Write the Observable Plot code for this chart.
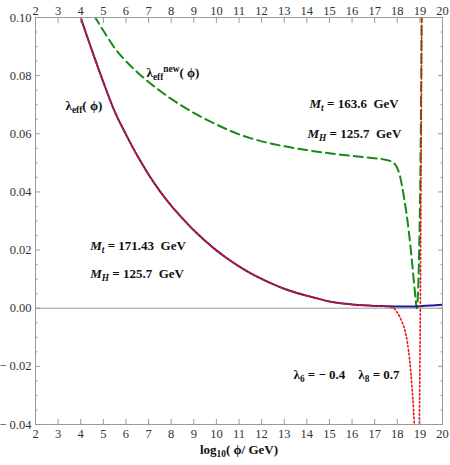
<!DOCTYPE html>
<html><head><meta charset="utf-8">
<script src="https://cdn.jsdelivr.net/npm/d3@7"></script>
<script src="https://cdn.jsdelivr.net/npm/@observablehq/plot@0.6"></script>
<style>body{margin:0;background:#fff} svg{display:block}</style>
</head><body><div id="chart"></div>
<script>
// λ_eff(φ), Mt = 171.43 GeV, Mh = 125.7 GeV (solid blue)
const blueX = [3.95,4,4.5,5,5.5,6,6.5,7,7.5,8,8.5,9,9.5,10,10.5,11,11.5,12,12.5,13,13.5,14,14.5,15,15.5,16,16.5,17,17.5,18,18.5,19,19.5,20];
const blueY = [0.1012,0.100,0.0886,0.0778,0.0677,0.0598,0.0525,0.0460,0.0403,0.0353,0.0309,0.0268,0.0232,0.0199,0.0170,0.0144,0.0121,0.0101,0.0083,0.0067,0.0054,0.0043,0.0033,0.0023,0.0017,0.0013,0.0010,0.0008,0.0007,0.0006,0.0006,0.0007,0.0009,0.0012];
// with λ6 = -0.4, λ8 = 0.7 (dotted red), branch before and after the pole
const redX1 = [3.95,4,4.5,5,5.5,6,6.5,7,7.5,8,8.5,9,9.5,10,10.5,11,11.5,12,12.5,13,13.5,14,14.5,15,15.5,16,16.5,17,17.5,17.8,18,18.2,18.35,18.45,18.55,18.65,18.72,18.78];
const redY1 = [0.1012,0.100,0.0886,0.0778,0.0677,0.0598,0.0525,0.0460,0.0403,0.0353,0.0309,0.0268,0.0232,0.0199,0.0170,0.0144,0.0121,0.0101,0.0083,0.0067,0.0054,0.0043,0.0033,0.0023,0.0017,0.0013,0.0010,0.0008,0.0006,0.0002,-0.0015,-0.0045,-0.0080,-0.0120,-0.0180,-0.0270,-0.0350,-0.0440];
const redX2 = [18.97,19.0,19.02,19.04,19.06,19.08,19.09];
const redY2 = [-0.045,-0.020,0.000,0.030,0.060,0.100,0.110];
// λ_eff^new(φ), Mt = 163.6 GeV (dashed green)
const greenX = [4.6,5,5.5,6,6.5,7,7.5,8,8.5,9,9.5,10,10.5,11,11.5,12,12.5,13,13.5,14,14.5,15,15.5,16,16.5,17,17.4,17.7,17.9,18.0,18.1,18.2,18.3,18.4,18.5,18.6,18.7,18.8,18.86,18.93,18.98,19.02,19.05,19.08];
const greenY = [0.1005,0.0955,0.0895,0.0850,0.0812,0.0778,0.0748,0.0720,0.0695,0.0672,0.0651,0.0632,0.0614,0.0598,0.0585,0.0574,0.0565,0.0557,0.0550,0.0544,0.0538,0.0533,0.0528,0.0524,0.0520,0.0516,0.0512,0.0506,0.0495,0.0482,0.0460,0.0425,0.0380,0.0330,0.0270,0.0200,0.0120,0.0040,0.0000,0.0080,0.0250,0.0450,0.0700,0.1020];

const xTicks = [2,3,4,5,6,7,8,9,10,11,12,13,14,15,16,17,18,19,20];
const yTicks = [-0.04,-0.02,0.00,0.02,0.04,0.06,0.08,0.10];
const yMinor = [-0.035,-0.03,-0.025,-0.015,-0.01,-0.005,0.005,0.01,0.015,0.025,0.03,0.035,0.045,0.05,0.055,0.065,0.07,0.075,0.085,0.09,0.095];

const annoText = ["λ_{eff}( ϕ)", "λ_{eff}^{new}( ϕ)", "*{M}_{*{t}} = 163.6  GeV", "*{M}_{*{H}} = 125.7  GeV", "*{M}_{*{t}} = 171.43  GeV", "*{M}_{*{H}} = 125.7  GeV", "λ_{6} = − 0.4    λ_{8} = 0.7"];
const annoX = [3.33, 6.91, 14.12, 14.03, 4.42, 4.42, 13.41];
const annoY = [0.0697, 0.0810, 0.0704, 0.0600, 0.0216, 0.0120, -0.0228];

const xTitle = "log_{10}( ϕ/ GeV)";

const toRows = (xs, ys, z) => xs.map((x, i) => ({x, y: ys[i], z}));
const blue = toRows(blueX, blueY, "b");
const red = [...toRows(redX1, redY1, "r1"), ...toRows(redX2, redY2, "r2")];
const green = toRows(greenX, greenY, "g");
const annos = annoText.map((t, i) => ({t, x: annoX[i], y: annoY[i]}));

const fmtY = d => d < 0 ? "− " + Math.abs(d).toFixed(2) : d.toFixed(2);
const frameGray = "#9a9a9a";

const chart = Plot.plot({
  width: 450, height: 465,
  marginTop: 17, marginBottom: 41, marginLeft: 35, marginRight: 8,
  style: {fontFamily: "'Liberation Serif', serif", fontSize: "12px", color: "#333", background: "#fff"},
  x: {domain: [2, 20], axis: null},
  y: {domain: [-0.04, 0.10], axis: null},
  marks: [
    Plot.ruleY([0], {stroke: frameGray, strokeWidth: 1}),
    Plot.line(green, {x: "x", y: "y", z: "z", stroke: "#158a15", strokeWidth: 2, strokeDasharray: "9,5", curve: "monotone-x", clip: true}),
    Plot.line(blue, {x: "x", y: "y", z: "z", stroke: "#1c1c96", strokeWidth: 2, curve: "monotone-x", clip: true}),
    Plot.line(red, {x: "x", y: "y", z: "z", stroke: "#f01010", strokeWidth: 1.6, strokeDasharray: "1.6,2.4", curve: "monotone-x", clip: true}),
    Plot.frame({stroke: frameGray}),
    // inward ticks
    Plot.axisX(xTicks, {anchor: "bottom", tickSize: -5, tickFormat: () => "", stroke: frameGray, label: null}),
    Plot.axisX(xTicks, {anchor: "top", tickSize: -5, tickFormat: () => "", stroke: frameGray, label: null}),
    Plot.axisY(yTicks, {anchor: "left", tickSize: -5, tickFormat: () => "", stroke: frameGray, label: null}),
    Plot.axisY(yTicks, {anchor: "right", tickSize: -5, tickFormat: () => "", stroke: frameGray, label: null}),
    Plot.axisY(yMinor, {anchor: "left", tickSize: -2.5, tickFormat: () => "", stroke: frameGray, label: null}),
    Plot.axisY(yMinor, {anchor: "right", tickSize: -2.5, tickFormat: () => "", stroke: frameGray, label: null}),
    // tick labels
    Plot.axisX(xTicks, {anchor: "bottom", tickSize: 0, tickPadding: 5, tickFormat: d => String(d), fill: "#333", fontSize: 12.5, label: null}),
    Plot.axisX(xTicks, {anchor: "top", tickSize: 0, tickPadding: 3, tickFormat: d => String(d), fill: "#333", fontSize: 12.5, label: null}),
    Plot.axisY(yTicks, {anchor: "left", tickSize: 0, tickPadding: 4, tickFormat: fmtY, fill: "#333", fontSize: 12.5, label: null}),
    // annotations
    Plot.text(annos, {x: "x", y: "y", text: "t", textAnchor: "start", fontWeight: "bold", fontSize: 13, fill: "#111"}),
    Plot.text([xTitle], {frameAnchor: "bottom", dy: 29, fontWeight: "bold", fontSize: 13, fill: "#111"})
  ]
});

// turn _{..} / ^{..} / *{..} markup into real tspans
const svgNS = "http://www.w3.org/2000/svg";
function richify(el) {
  const s = el.textContent;
  if (!/[_^*]\{/.test(s)) return;
  el.textContent = "";
  let shift = 0;
  const re = /([_^])\{((?:\*\{[^}]*\}|[^}])*)\}|\*\{([^}]*)\}|([^_^*]+|[_^*])/g;
  let m;
  const add = (str, level, italic) => {
    const t = document.createElementNS(svgNS, "tspan");
    const target = level === "_" ? 3.5 : level === "^" ? -5 : 0;
    if (target - shift !== 0) t.setAttribute("dy", target - shift);
    shift = target;
    if (level) t.setAttribute("font-size", "72%");
    if (italic) t.setAttribute("font-style", "italic");
    t.textContent = str;
    el.appendChild(t);
  };
  while ((m = re.exec(s))) {
    if (m[1]) {
      const inner = m[2];
      const im = /^\*\{(.*)\}$/.exec(inner);
      if (im) add(im[1], m[1], true); else add(inner, m[1], false);
    } else if (m[3] !== undefined) add(m[3], null, true);
    else add(m[4], null, false);
  }
}
chart.querySelectorAll("text").forEach(richify);
document.getElementById("chart").appendChild(chart);
</script>
</body></html>
